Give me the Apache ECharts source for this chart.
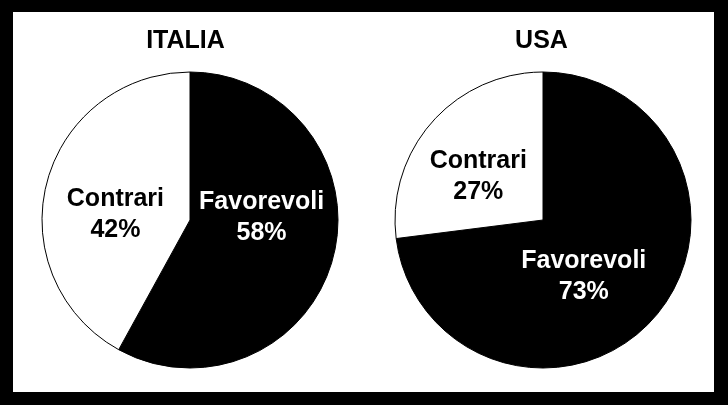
<!DOCTYPE html>
<html>
<head>
<meta charset="utf-8">
<script src="https://cdn.jsdelivr.net/npm/echarts@6/dist/echarts.min.js"></script>
<style>
html,body{margin:0;padding:0;background:#000;}
#chart{width:728px;height:405px;}
</style>
</head>
<body>
<div id="chart"></div>
<script>
const countries = ['ITALIA', 'USA'];
const categories = ['Favorevoli', 'Contrari'];
const italiaValues = [58, 42];
const usaValues = [73, 27];

const FONT = '"Liberation Sans", Arial, sans-serif';
const sliceColors = ['#000000', '#ffffff'];
const labelColors = ['#ffffff', '#000000'];
const centers = [[190, 220], [543, 220]];
const labelShift = [
  [[-3, -22], [0, 14]],
  [[-17, 6], [-7, 8]]
];

function makeSeries(idx, values) {
  return {
    type: 'pie',
    name: countries[idx],
    center: centers[idx],
    radius: 148,
    startAngle: 90,
    clockwise: true,
    silent: true,
    animation: false,
    label: {
      show: true,
      position: 'inside',
      formatter: '{b}\n{c}%',
      fontFamily: FONT,
      fontWeight: 'bold',
      fontSize: 25,
      lineHeight: 31,
      align: 'center'
    },
    labelLine: { show: false },
    labelLayout: function (p) {
      const s = labelShift[idx][p.dataIndex];
      return { dx: s[0], dy: s[1] };
    },
    itemStyle: { borderColor: '#000', borderWidth: 1 },
    data: categories.map((c, i) => ({
      name: c,
      value: values[i],
      itemStyle: { color: sliceColors[i] },
      label: { color: labelColors[i] }
    }))
  };
}

const chart = echarts.init(document.getElementById('chart'), null, { renderer: 'canvas' });
chart.setOption({
  backgroundColor: '#000',
  animation: false,
  graphic: [
    { type: 'rect', z: -10, shape: { x: 13, y: 12, width: 701, height: 380 }, style: { fill: '#fff' } },
    { type: 'text', x: 185.5, y: 41, style: { text: countries[0], font: 'bold 25px ' + FONT, fill: '#000', textAlign: 'center', textVerticalAlign: 'middle' } },
    { type: 'text', x: 541.5, y: 41, style: { text: countries[1], font: 'bold 25px ' + FONT, fill: '#000', textAlign: 'center', textVerticalAlign: 'middle' } }
  ],
  series: [makeSeries(0, italiaValues), makeSeries(1, usaValues)]
});
</script>
</body>
</html>
